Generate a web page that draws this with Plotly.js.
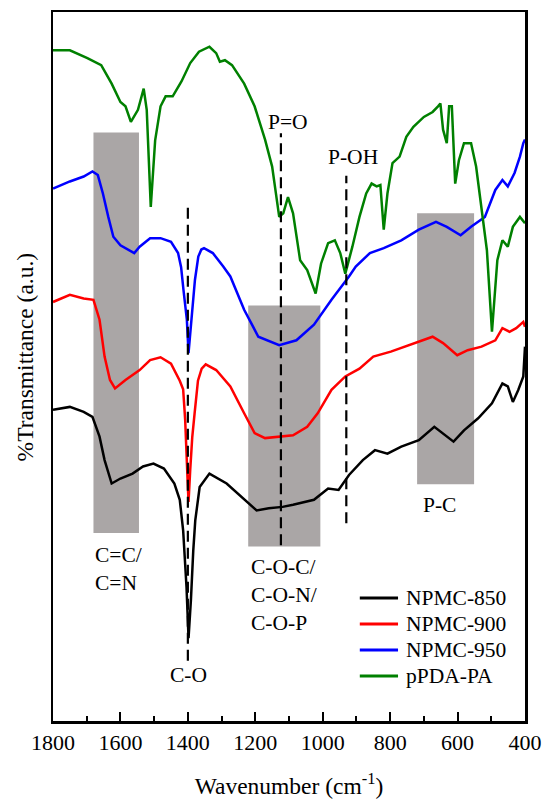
<!DOCTYPE html>
<html>
<head>
<meta charset="utf-8">
<script src="https://cdn.plot.ly/plotly-3.0.1.min.js"></script>
<style>html,body{margin:0;padding:0;background:#fff;}#chart{width:547px;height:800px;}</style>
</head>
<body>
<div id="chart"></div>
<script>
// ---- Data (wavenumber in cm^-1, transmittance in arbitrary units) ----
const seriesNames = ['NPMC-850', 'NPMC-900', 'NPMC-950', 'pPDA-PA'];
const seriesColors = ['#000000', '#ff0000', '#0000ff', '#008000'];

const wn850 = [1800,1750,1709,1683,1662,1647,1626,1600,1564,1533,1502,1471,1440,1424,1414,1404,1398,1391,1384,1378,1365,1336,1285,1264,1233,1196,1160,1119,1088,1057,1026,984,953,922,881,845,808,767,715,669,643,612,581,539,498,467,451,436,420,405,400];
const t850  = [43.9,44.3,43.6,42.9,40.1,36.8,33.5,34.2,34.9,35.9,36.3,35.6,33.5,31.2,26.9,18.9,11.7,17.0,24.0,28.3,33.0,34.9,33.5,32.6,31.2,29.7,30.0,30.2,30.5,30.9,31.2,32.8,32.6,34.7,36.8,38.2,37.7,38.7,39.6,41.5,40.6,39.4,41.0,42.7,44.8,47.6,47.2,45.0,46.7,48.6,52.8];

const wn900 = [1800,1750,1709,1680,1662,1647,1631,1616,1585,1543,1512,1481,1450,1424,1414,1408,1402,1398,1393,1387,1380,1370,1359,1347,1316,1274,1233,1202,1171,1129,1088,1046,1015,974,933,891,850,798,746,705,674,643,601,570,529,488,467,446,426,405,400];
const t900  = [59.1,60.1,59.6,59.4,56.6,51.4,48.1,46.9,48.1,49.5,50.9,51.3,50.4,48.0,46.8,42.5,35.4,30.9,35.4,40.0,43.4,48.0,49.7,50.3,49.5,47.2,43.4,40.6,39.9,40.1,40.3,41.5,43.4,46.7,48.6,49.7,51.4,52.1,53.0,53.7,54.2,53.3,51.6,52.3,52.8,53.7,55.4,54.9,55.4,56.3,55.6];

const wn950 = [1800,1750,1709,1683,1667,1652,1636,1621,1600,1574,1559,1543,1512,1481,1450,1429,1420,1413,1403,1398,1392,1385,1379,1369,1360,1352,1326,1295,1274,1233,1191,1129,1078,1026,974,922,902,860,819,767,715,664,632,591,560,519,488,467,451,431,415,405,400];
const t950  = [75.1,76.1,76.8,77.5,77.0,74.4,71.1,68.3,67.1,66.4,66.0,66.9,68.1,68.1,67.6,66.0,64.0,60.8,56.6,51.9,55.5,59.5,62.2,65.5,66.5,66.7,66.0,64.1,62.7,58.0,54.2,53.0,53.7,55.9,59.4,62.7,64.1,66.0,66.7,67.8,69.3,70.4,69.7,68.5,69.7,71.1,74.9,76.3,75.4,77.3,79.6,81.5,82.0];

const wnPA = [1800,1750,1698,1657,1626,1600,1585,1569,1548,1531,1522,1510,1497,1481,1466,1445,1419,1393,1367,1336,1316,1305,1290,1269,1233,1202,1171,1150,1129,1117,1103,1088,1067,1046,1021,1005,984,964,948,933,912,891,871,855,840,829,819,808,793,772,752,731,700,674,658,651,643,632,625,617,607,596,581,560,545,529,513,498,482,467,451,436,415,400];
const tPA  = [94.6,94.6,93.5,92.5,89.9,87.3,86.7,84.5,86.2,89.2,86.2,72.5,81.9,86.7,88.1,88.1,90.2,92.8,94.4,95.1,94.2,93.0,93.2,92.5,89.9,86.7,82.0,78.2,71.1,71.6,73.9,71.6,65.0,63.6,60.3,64.5,67.4,67.8,66.0,63.1,66.9,71.1,74.4,75.8,75.4,75.6,69.3,74.4,78.7,79.6,82.4,83.8,85.2,85.9,86.7,87.1,83.4,81.5,86.7,86.7,75.8,79.1,81.5,81.5,78.2,72.5,66.4,54.9,65.0,67.8,66.9,69.7,71.1,70.2];

// shaded bands: [wn start, wn end, y bottom, y top]
const bandWn0 = [1680, 1221, 720];
const bandWn1 = [1545, 1007, 551];
const bandY0  = [26.5, 24.6, 33.4];
const bandY1  = [83.0, 58.6, 71.6];

// dashed marker lines
const markWn = [1400, 1124, 930];
const markY0 = [8.5, 24.8, 27.9];
const markY1 = [73.2, 82.9, 76.9];

// band / peak labels
const labelText = ['P=O', 'P-OH', 'P-C', 'C=C/<br>C=N', 'C-O-C/<br>C-O-N/<br>C-O-P', 'C-O'];
const labelWn   = [1102, 911, 653, 1682, 1219, 1398];
const labelY    = [84.5, 79.5, 30.5, 21.5, 17.8, 6.5];
const labelAnchor = ['center', 'center', 'center', 'left', 'left', 'center'];

const xTicks = [1800, 1600, 1400, 1200, 1000, 800, 600, 400];

// ---- Build ----
const FONT = '"Liberation Serif", "Times New Roman", Times, serif';
const xs = [wn850, wn900, wn950, wnPA];
const ys = [t850, t900, t950, tPA];

const traces = xs.map((x, i) => ({
  x: x, y: ys[i], type: 'scatter', mode: 'lines', name: seriesNames[i],
  line: {color: seriesColors[i], width: 2.5}, showlegend: false, hoverinfo: 'skip'
}));

const shapes = [];
for (let i = 0; i < bandWn0.length; i++) {
  shapes.push({type: 'rect', xref: 'x', yref: 'y', x0: bandWn0[i], x1: bandWn1[i], y0: bandY0[i], y1: bandY1[i],
    fillcolor: '#aaa6a6', line: {width: 0}, layer: 'below'});
}
for (let i = 0; i < markWn.length; i++) {
  shapes.push({type: 'line', xref: 'x', yref: 'y', x0: markWn[i], x1: markWn[i], y0: markY0[i], y1: markY1[i],
    line: {color: '#000', width: 2.2, dash: '11px,6px'}, layer: 'above'});
}

const annotations = [];
for (let i = 0; i < labelText.length; i++) {
  annotations.push({text: labelText[i], x: labelWn[i], y: labelY[i], xref: 'x', yref: 'y', showarrow: false,
    xanchor: labelAnchor[i], yanchor: 'middle', align: 'left', font: {family: FONT, size: 21.5, color: '#000'}});
}

// custom legend (paper coords)
const legX0 = 0.650, legX1 = 0.731, legTextX = 0.744;
const legY = [0.1735, 0.1368, 0.1001, 0.0635];
for (let i = 0; i < seriesNames.length; i++) {
  shapes.push({type: 'line', xref: 'paper', yref: 'paper', x0: legX0, x1: legX1, y0: legY[i], y1: legY[i],
    line: {color: seriesColors[i], width: 3}});
  annotations.push({text: seriesNames[i], x: legTextX, y: legY[i], xref: 'paper', yref: 'paper', showarrow: false,
    xanchor: 'left', yanchor: 'middle', font: {family: FONT, size: 21.5, color: '#000'}});
}

// y-axis title placed as rotated text left of the frame
annotations.push({text: '%Transmittance (a.u.)', xref: 'paper', yref: 'paper', x: -0.059, y: 0.513,
  xanchor: 'center', yanchor: 'middle', textangle: -90, showarrow: false,
  font: {family: FONT, size: 23.5, color: '#000'}});

const layout = {
  width: 547, height: 800,
  margin: {l: 53, r: 22, t: 12, b: 79},
  paper_bgcolor: '#fff', plot_bgcolor: '#fff',
  font: {family: FONT, color: '#000'},
  showlegend: false,
  xaxis: {
    range: [1800, 400], autorange: false,
    tickmode: 'array', tickvals: xTicks, ticktext: xTicks.map(String),
    ticks: 'inside', ticklen: 9, tickwidth: 2, tickcolor: '#000',
    minor: {dtick: 100, tick0: 0, ticks: 'inside', ticklen: 5, tickwidth: 2, tickcolor: '#000'},
    tickfont: {family: FONT, size: 22, color: '#000'},
    showline: true, linecolor: '#000', linewidth: 2.5, mirror: true,
    showgrid: false, zeroline: false,
    title: {text: 'Wavenumber (cm<sup>-1</sup>)', font: {family: FONT, size: 23.5, color: '#000'}, standoff: 24}
  },
  yaxis: {
    range: [0, 100], autorange: false,
    showticklabels: false, ticks: '',
    showline: true, linecolor: '#000', linewidth: 2.5, mirror: true,
    showgrid: false, zeroline: false
  },
  shapes: shapes,
  annotations: annotations
};

Plotly.newPlot('chart', traces, layout, {staticPlot: true, displayModeBar: false});
</script>
</body>
</html>
